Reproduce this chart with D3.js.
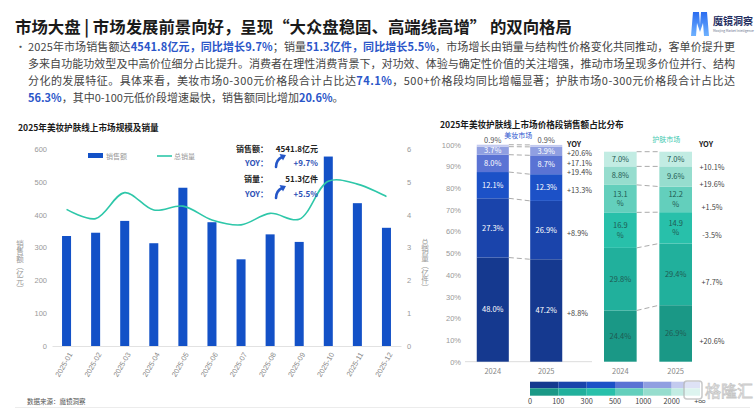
<!DOCTYPE html>
<html>
<head>
<meta charset="utf-8">
<script src="https://cdn.jsdelivr.net/npm/d3@7"></script>
<style>
  body { margin: 0; background: #fff; }
  svg { font-family: "Noto Sans CJK SC", "Noto Sans", sans-serif; }
</style>
</head>
<body>
<svg id="chart" width="756" height="409"></svg>
<script>
// ---- data ----
const months = ["2025-01","2025-02","2025-03","2025-04","2025-05","2025-06",
                "2025-07","2025-08","2025-09","2025-10","2025-11","2025-12"];
const salesAmt = [335, 345, 381, 313, 482, 377, 264, 340, 317, 577, 435, 360];   // 亿元
const salesVol = [4.16, 3.88, 4.67, 4.14, 4.26, 3.84, 3.69, 4.04, 3.86, 5.02, 4.93, 4.55]; // 亿件
const amtTicks = [0, 100, 200, 300, 400, 500, 600];
const volTicks = [0, 1, 2, 3, 4, 5, 6];

const years = ["2024", "2025"];
const priceBands = ["0-100", "100-300", "300-500", "500-1000", "1000-2000", "2000+"];
const beauty2024 = [48.0, 27.3, 12.1, 8.0, 3.7, 0.9];
const beauty2025 = [47.2, 26.9, 12.3, 8.7, 3.9, 0.9];
const beautyYoy = ["+8.8%", "+8.9%", "+13.3%", "+19.4%", "+17.1%", "+20.6%"];
const skin2024 = [24.4, 29.8, 16.9, 13.1, 8.8, 7.0];
const skin2025 = [26.9, 29.4, 14.9, 12.2, 9.6, 7.0];
const skinYoy = ["+20.6%", "+7.7%", "-3.5%", "+1.5%", "+19.6%", "+10.1%"];
const pctTicks = [0, 10, 20, 30, 40, 50, 60, 70, 80, 90, 100];
const legendTicks = ["0", "100", "300", "500", "1000", "2000", "+∞"];

const beautyColors = ["#15398f", "#1a44ab", "#1c51c7", "#5a73d4", "#909fe1", "#c3caef"];
const skinColors = ["#1a9886", "#21b09c", "#28c0aa", "#63cfbc", "#96ddce", "#c2ece3"];

const svg = d3.select("#chart");
const blue = "#2b56c9";

// ---- header ----
svg.append("text").attr("x", 15).attr("y", 33)
  .attr("font-size", 16.4).attr("font-weight", 700).attr("fill", "#1a1a1a")
  .text("市场大盘 | 市场发展前景向好，呈现“大众盘稳固、高端线高增” 的双向格局");

// logo
const logo = svg.append("g").attr("transform", "translate(690,10)");
const grad = svg.append("defs").append("linearGradient").attr("id", "lg")
  .attr("x1", 0).attr("y1", 0).attr("x2", 0).attr("y2", 1);
grad.append("stop").attr("offset", 0).attr("stop-color", "#2a6cf0");
grad.append("stop").attr("offset", 1).attr("stop-color", "#6fb2ff");
logo.append("path").attr("d", "M1,26 L3,2 L9,2 L10,15 L11,2 L17,2 L19,26 L14,26 L13,13 L10,22 L7,13 L6,26 Z")
  .attr("fill", "url(#lg)");
logo.append("text").attr("x", 23).attr("y", 15).attr("font-size", 10).attr("font-weight", 700)
  .attr("fill", "#1d2b5e").text("魔镜洞察");
logo.append("text").attr("x", 23).attr("y", 21.5).attr("font-size", 3.2).attr("fill", "#6a7390")
  .text("Moojing Market Intelligence");

// bullet paragraph
const para = [
  [["2025年市场销售额达"], ["4541.8亿元，同比增长9.7%", 1], ["；销量"], ["51.3亿件，同比增长5.5%", 1], ["，市场增长由销量与结构性价格变化共同推动，客单价提升更"]],
  [["多来自功能功效型及中高价位细分占比提升。消费者在理性消费背景下，对功效、体验与确定性价值的关注增强，推动市场呈现多价位并行、结构"]],
  [["分化的发展特征。具体来看，美妆市场0-300元价格段合计占比达"], ["74.1%", 1], ["，500+价格段均同比增幅显著；护肤市场0-300元价格段合计占比达"]],
  [["56.3%", 1], ["，其中0-100元低价段增速最快，销售额同比增加"], ["20.6%", 1], ["。"]]
];
svg.append("text").attr("x", 15).attr("y", 51).attr("font-size", 11).attr("fill", "#555").text("•");
para.forEach((line, i) => {
  const t = svg.append("text").attr("x", 28).attr("y", 51 + i * 17)
    .attr("font-size", 11).attr("fill", "#444");
  if (i < 3) t.attr("textLength", 707).attr("lengthAdjust", "spacing");
  line.forEach(seg => {
    t.append("tspan").text(seg[0])
      .attr("fill", seg[1] ? blue : "#444")
      .attr("font-weight", seg[1] ? 700 : 400);
  });
});

// ---- left chart ----
svg.append("text").attr("x", 18).attr("y", 131).attr("font-size", 8.6).attr("font-weight", 700)
  .attr("fill", "#1a1a1a").text("2025年美妆护肤线上市场规模及销量");

const x = d3.scaleBand().domain(months).range([52, 401]).paddingInner(0.69).paddingOuter(0.345);
const yAmt = d3.scaleLinear().domain([0, 600]).range([346, 149]);
const yVol = d3.scaleLinear().domain([0, 6]).range([346, 149]);

const axL = svg.append("g").attr("transform", "translate(50,0)")
  .call(d3.axisLeft(yAmt).tickValues(amtTicks).tickFormat(d3.format("d")).tickSize(0).tickPadding(3))
  .call(g => g.select(".domain").remove());
axL.selectAll("text").attr("font-size", 7.5).attr("fill", "#999").attr("font-family", null);

const axR = svg.append("g").attr("transform", "translate(403,0)")
  .call(d3.axisRight(yVol).tickValues(volTicks).tickFormat(d3.format("d")).tickSize(0).tickPadding(4))
  .call(g => g.select(".domain").remove());
axR.selectAll("text").attr("font-size", 7.5).attr("fill", "#999").attr("font-family", null);

const axB = svg.append("g").attr("transform", "translate(0,346)")
  .call(d3.axisBottom(x).tickSize(0).tickSizeOuter(0));
axB.select(".domain").attr("stroke", "#e2e2e2");
axB.selectAll("text").attr("font-size", 7.3).attr("fill", "#888").attr("font-family", null)
  .attr("text-anchor", "end").attr("y", 0).attr("dy", "0.35em")
  .attr("transform", "translate(4,7) rotate(-60)");

svg.append("g").selectAll("rect").data(salesAmt).join("rect")
  .attr("x", (d, i) => x(months[i]))
  .attr("y", d => yAmt(d))
  .attr("width", x.bandwidth())
  .attr("height", d => yAmt(0) - yAmt(d))
  .attr("fill", "#1351c7");

const line = d3.line()
  .x((d, i) => x(months[i]) + x.bandwidth() / 2)
  .y(d => yVol(d))
  .curve(d3.curveCatmullRom.alpha(0.5));
svg.append("path").datum(salesVol).attr("d", line)
  .attr("fill", "none").attr("stroke", "#2ec7a9").attr("stroke-width", 1.6);

// axis titles in vertical writing mode (upright CJK)
function verticalText(x0, y0, str) {
  svg.append("text").attr("x", x0).attr("y", y0)
    .attr("font-size", 7.5).attr("fill", "#999")
    .attr("writing-mode", "tb")
    .style("writing-mode", "vertical-rl").style("text-orientation", "mixed")
    .text(str);
}
verticalText(20, 240, "销售额（亿元）");
verticalText(425, 239, "总销量（亿件）");

// legend
svg.append("rect").attr("x", 88).attr("y", 153).attr("width", 15).attr("height", 5).attr("fill", "#1351c7");
svg.append("text").attr("x", 106).attr("y", 158.5).attr("font-size", 7).attr("fill", "#999").text("销售额");
svg.append("line").attr("x1", 157).attr("x2", 172).attr("y1", 156).attr("y2", 156)
  .attr("stroke", "#2ec7a9").attr("stroke-width", 1.6);
svg.append("text").attr("x", 174).attr("y", 158.5).attr("font-size", 7).attr("fill", "#999").text("总销量");

// annotation
const ann = svg.append("g").attr("font-size", 8).attr("font-weight", 700);
const annRows = [
  ["销售额：", "4541.8亿元", "#222", 152],
  ["YOY：", "+9.7%", "#2d4fb5", 166],
  ["销量：", "51.3亿件", "#222", 182],
  ["YOY：", "+5.5%", "#2d4fb5", 197]
];
annRows.forEach(r => {
  ann.append("text").attr("x", 268).attr("y", r[3]).attr("text-anchor", "end").attr("fill", r[2]).text(r[0]);
  ann.append("text").attr("x", 318).attr("y", r[3]).attr("text-anchor", "end").attr("fill", r[2]).text(r[1]);
});
[166, 197].forEach(yy => {
  const a = svg.append("g").attr("transform", `translate(275,${yy - 12})`);
  a.append("path").attr("d", "M1,13 C1,8 3,5 7,3").attr("fill", "none")
    .attr("stroke", "#2456c8").attr("stroke-width", 2.6).attr("stroke-linecap", "round");
  a.append("path").attr("d", "M4.5,0 L11,1 L8,6.5 Z").attr("fill", "#2456c8");
});

svg.append("text").attr("x", 27).attr("y", 404).attr("font-size", 6.5).attr("fill", "#555").text("数据来源：魔镜洞察");
svg.append("line").attr("x1", 15).attr("x2", 750).attr("y1", 407.5).attr("y2", 407.5)
  .attr("stroke", "#ececec");

// ---- right chart ----
svg.append("text").attr("x", 440).attr("y", 128).attr("font-size", 8.6).attr("font-weight", 700)
  .attr("fill", "#1a1a1a").text("2025年美妆护肤线上市场价格段销售额占比分布");

const yB = d3.scaleLinear().domain([0, 100]).range([361.7, 144.7]);
const yS = d3.scaleLinear().domain([0, 100]).range([361.7, 151.7]);
const xB = d3.scaleBand().domain(years).range([465, 574]).paddingInner(0.4).paddingOuter(0.22);
const xS = d3.scaleBand().domain(years).range([592, 704]).paddingInner(0.41).paddingOuter(0.217);

const axP = svg.append("g").attr("transform", "translate(465,0)")
  .call(d3.axisLeft(yB).tickValues(pctTicks).tickFormat(d => d + "%").tickSize(0).tickPadding(4))
  .call(g => g.select(".domain").remove());
axP.selectAll("text").attr("font-size", 7.5).attr("fill", "#999").attr("font-family", null);

svg.append("line").attr("x1", 465).attr("x2", 592).attr("y1", 361.7).attr("y2", 361.7)
  .attr("stroke", "#dcdcdc");

function stackedPanel(xs, ys, v24, v25, colors, labelColor, wrap) {
  const rows = [v24, v25].map((vals, j) => {
    const o = { year: years[j] };
    priceBands.forEach((b, k) => o[b] = vals[k]);
    return o;
  });
  const series = d3.stack().keys(priceBands)(rows);
  const g = svg.append("g");
  g.selectAll("g").data(series).join("g")
    .attr("fill", (d, k) => colors[k])
    .selectAll("rect").data(d => d).join("rect")
    .attr("x", d => xs(d.data.year))
    .attr("y", d => ys(d[1]))
    .attr("width", xs.bandwidth())
    .attr("height", d => ys(d[0]) - ys(d[1]));
  // dashed connectors
  series.forEach(s => {
    g.append("line")
      .attr("x1", xs(years[0]) + xs.bandwidth()).attr("y1", ys(s[0][1]))
      .attr("x2", xs(years[1])).attr("y2", ys(s[1][1]))
      .attr("stroke", "#a0a0a0").attr("stroke-dasharray", "5,3").attr("stroke-width", 0.9);
  });
  // labels
  series.forEach((s, k) => {
    s.forEach(d => {
      const v = d[1] - d[0];
      const cx = xs(d.data.year) + xs.bandwidth() / 2;
      const txt = v.toFixed(1) + "%";
      const small = v < 2;
      const t = g.append("text").attr("x", cx).attr("text-anchor", "middle")
        .attr("font-size", 7.5).attr("fill", small ? "#555" : labelColor(k));
      if (small) {
        t.attr("y", ys(100) - 2).text(txt);
      } else if (wrap && v >= 10 && v < 20) {
        const cy = ys((d[0] + d[1]) / 2);
        t.append("tspan").attr("x", cx).attr("y", cy - 2).text(v.toFixed(1));
        t.append("tspan").attr("x", cx).attr("y", cy + 7.5).text("%");
      } else {
        t.attr("y", ys((d[0] + d[1]) / 2)).attr("dy", "0.35em").text(txt);
      }
    });
  });
  return series;
}

const sB = stackedPanel(xB, yB, beauty2024, beauty2025, beautyColors, () => "#fff", false);
const sS = stackedPanel(xS, yS, skin2024, skin2025, skinColors, () => "#1f5a52", true);

// x labels
years.forEach(yr => {
  svg.append("text").attr("x", xB(yr) + xB.bandwidth() / 2).attr("y", 374).attr("text-anchor", "middle")
    .attr("font-size", 7.5).attr("fill", "#888").text(yr);
  svg.append("text").attr("x", xS(yr) + xS.bandwidth() / 2).attr("y", 374).attr("text-anchor", "middle")
    .attr("font-size", 7.5).attr("fill", "#888").text(yr);
});

// panel headers
svg.append("text").attr("x", xB("2025") - 12).attr("y", 138).attr("text-anchor", "middle")
  .attr("font-size", 7).attr("fill", "#2a56cf").text("美妆市场");
svg.append("text").attr("x", xS("2025") + 7).attr("y", 142).attr("text-anchor", "middle")
  .attr("font-size", 7).attr("fill", "#3cc9b0").text("护肤市场");

// YOY columns
svg.append("text").attr("x", 567).attr("y", 147).attr("font-size", 7.5).attr("font-weight", 700)
  .attr("fill", "#222").text("YOY");
let prevY = 144.3;
for (let k = priceBands.length - 1; k >= 0; k--) {
  const d = sB[k][1];
  const yy = Math.max(yB((d[0] + d[1]) / 2) + 3, prevY + 9.5);
  prevY = yy;
  svg.append("text").attr("x", 567).attr("y", yy).attr("dy", "0.35em")
    .attr("font-size", 7.3).attr("fill", "#444").text(beautyYoy[k]);
}
svg.append("text").attr("x", 706).attr("y", 147).attr("text-anchor", "middle").attr("font-size", 7.5)
  .attr("font-weight", 700).attr("fill", "#222").text("YOY");
prevY = 144.3;
for (let k = priceBands.length - 1; k >= 0; k--) {
  const d = sS[k][1];
  const yy = Math.max(yS((d[0] + d[1]) / 2) + 8, prevY + 9.5);
  prevY = yy;
  svg.append("text").attr("x", 712).attr("y", yy).attr("dy", "0.35em").attr("text-anchor", "middle")
    .attr("font-size", 7.3).attr("fill", "#444").text(skinYoy[k]);
}

// price legend
const xl = d3.scaleLinear().domain([0, legendTicks.length - 1]).range([530, 700]);
priceBands.forEach((b, k) => {
  svg.append("rect").attr("x", xl(k)).attr("y", 381.7).attr("width", xl(k + 1) - xl(k)).attr("height", 6.6)
    .attr("fill", beautyColors[k]);
  svg.append("rect").attr("x", xl(k)).attr("y", 388.3).attr("width", xl(k + 1) - xl(k)).attr("height", 7.4)
    .attr("fill", skinColors[k]);
});
legendTicks.forEach((t, i) => {
  svg.append("text").attr("x", xl(i)).attr("y", 404).attr("text-anchor", "middle")
    .attr("font-size", 7.3).attr("fill", "#444").text(t);
});

// watermark
const wm = svg.append("g").attr("opacity", 0.75);
wm.append("rect").attr("x", 684).attr("y", 381).attr("width", 18).attr("height", 18).attr("rx", 3)
  .attr("fill", "rgba(255,255,255,0.6)").attr("stroke", "#b8b8b8").attr("stroke-width", 1.5);
wm.append("text").attr("x", 705).attr("y", 397).attr("font-size", 16)
  .attr("fill", "rgba(255,255,255,0.5)").attr("stroke", "#b5b5b5").attr("stroke-width", 0.8).text("格隆汇");
</script>
</body>
</html>
